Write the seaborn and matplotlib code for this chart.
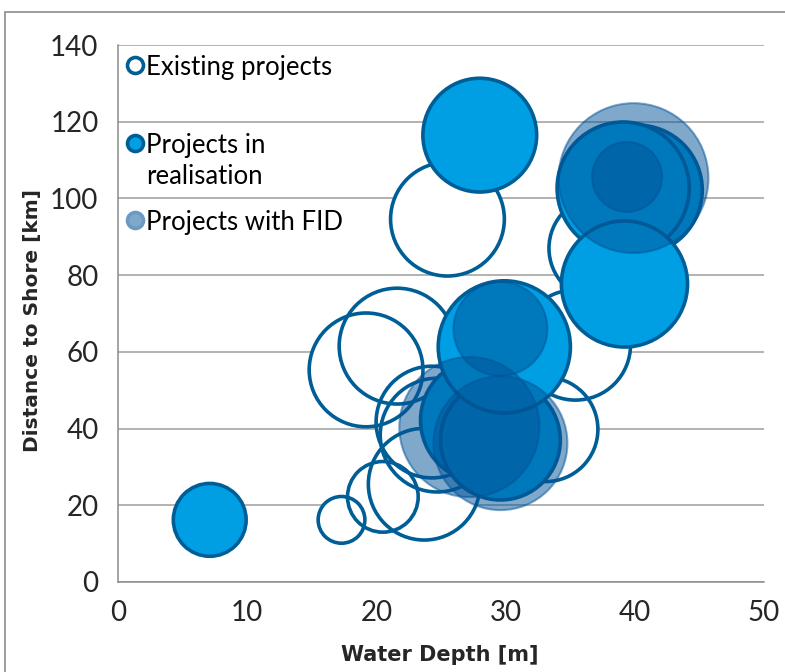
import matplotlib
matplotlib.use("Agg")
import matplotlib.pyplot as plt
import seaborn as sns
import pandas as pd
from matplotlib.patches import Rectangle

# ---------------- data ----------------
existing_depth = [17.3, 20.5, 23.7, 19.2, 21.6, 25.5, 24.3, 24.7, 33.1, 35.4, 37.4]
existing_dist = [16.2, 22.2, 25.5, 55.3, 61.5, 94.6, 41.7, 38.3, 39.8, 61.8, 87.0]
existing_cap = [70, 160, 400, 415, 430, 415, 400, 415, 350, 390, 350]

realisation_depth = [7.1, 28.0, 28.2, 29.6, 40.2, 39.1, 29.9, 39.2]
realisation_dist = [16.2, 116.5, 42.2, 37.0, 102.2, 102.7, 61.3, 77.7]
realisation_cap = [170, 415, 490, 460, 540, 560, 560, 510]

fid_depth = [27.2, 29.6, 39.9, 39.4, 29.6]
fid_dist = [40.4, 36.2, 105.3, 105.6, 66.0]
fid_cap = [630, 575, 720, 157, 283]

legend_labels = ["Existing projects", "Projects in\nrealisation", "Projects with FID"]
x_ticks = [0, 10, 20, 30, 40, 50]
y_ticks = [0, 20, 40, 60, 80, 100, 120, 140]
x_label = "Water Depth [m]"
y_label = "Distance to Shore [km]"

# ---------------- styling ----------------
sns.set_theme(style="white")
plt.rcParams["font.family"] = ["Lato", "DejaVu Sans"]

EDGE = "#005E97"
BRIGHT = "#009FE3"
FID = "#005397"
GRID = "#A6A6A6"
AXC = "#8C8C8C"

CAP_MAX = 1000
S_MAX = 16170  # marker area (pt^2) for CAP_MAX, area proportional to capacity

df_e = pd.DataFrame({"x": existing_depth, "y": existing_dist, "cap": existing_cap})
df_r = pd.DataFrame({"x": realisation_depth, "y": realisation_dist, "cap": realisation_cap})
df_f = pd.DataFrame({"x": fid_depth, "y": fid_dist, "cap": fid_cap})

fig = plt.figure(figsize=(7.85, 6.72), dpi=100)
ax = fig.add_axes([118 / 785, 1 - 582 / 672, 646 / 785, 537 / 672])

common = dict(size="cap", sizes=(0, S_MAX), size_norm=(0, CAP_MAX), legend=False, ax=ax)

# existing: white fills first, then all outlines
sns.scatterplot(data=df_e, x="x", y="y", color="white", linewidth=0, zorder=3, **common)
sns.scatterplot(data=df_e, x="x", y="y", color="none", edgecolor=EDGE, linewidth=2.6,
                zorder=4, **common)
# projects in realisation
sns.scatterplot(data=df_r, x="x", y="y", color=BRIGHT, edgecolor=EDGE, linewidth=2.6,
                zorder=5, **common)
# projects with FID (translucent)
sns.scatterplot(data=df_f, x="x", y="y", color=FID, edgecolor=FID, linewidth=1.5,
                alpha=0.5, zorder=6, **common)

ax.set_xlim(0, 50)
ax.set_ylim(0, 140)
ax.set_xticks(x_ticks)
ax.set_yticks(y_ticks)
ax.set_xticklabels([str(t) for t in x_ticks], fontsize=20)
ax.set_yticklabels([str(t) for t in y_ticks], fontsize=20)
ax.tick_params(axis="both", direction="out", length=6, width=1.1, color=AXC)
ax.tick_params(axis="y", pad=8)
ax.tick_params(axis="x", pad=7)
ax.set_axisbelow(True)
ax.yaxis.grid(True, color=GRID, linewidth=1.2)
ax.xaxis.grid(False)
for s in ["top", "right"]:
    ax.spines[s].set_visible(False)
for s in ["left", "bottom"]:
    ax.spines[s].set_color(AXC)
    ax.spines[s].set_linewidth(1.1)
    ax.spines[s].set_zorder(2)

lab_font = ["DejaVu Sans"]
ax.set_xlabel(x_label, fontsize=15, fontweight="bold", family=lab_font)
ax.set_ylabel(y_label, fontsize=14.5, fontweight="bold", family=lab_font)
ax.xaxis.set_label_coords((440 - 118) / 646, (582 - 645) / 537)
ax.yaxis.set_label_coords((42 - 118) / 646, (582 - 320) / 537)

# ---------------- legend (inside, no frame) ----------------
def axfrac(px, py):
    return ((px - 118) / 646, (582 - py) / 537)

leg_styles = [
    dict(mfc="white", mec=EDGE),
    dict(mfc=BRIGHT, mec=EDGE),
    dict(mfc="#7FA9CB", mec="#6A9AC2"),
]
leg_rows = [65, 143, 220]
for lab, st, py in zip(legend_labels, leg_styles, leg_rows):
    mx, my = axfrac(135, py)
    ax.plot([mx], [my], marker="o", markersize=11.5, markeredgewidth=2.6,
            markerfacecolor=st["mfc"], markeredgecolor=st["mec"],
            transform=ax.transAxes, clip_on=False, zorder=10, linestyle="none")
    for i, line in enumerate(lab.split("\n")):
        tx, ty = axfrac(146, py + 31 * i)
        ax.text(tx, ty, line, transform=ax.transAxes, fontsize=18.5, va="center_baseline",
                ha="left", color="black", zorder=10)

# chart-area border (cropped screenshot)
fig.patches.append(Rectangle((5 / 785, -0.1), 2.0, (672 - 12) / 672 + 0.1,
                             transform=fig.transFigure, fill=False,
                             edgecolor="#8C8C8C", linewidth=1.2))

fig.savefig("out.png", dpi=100)
